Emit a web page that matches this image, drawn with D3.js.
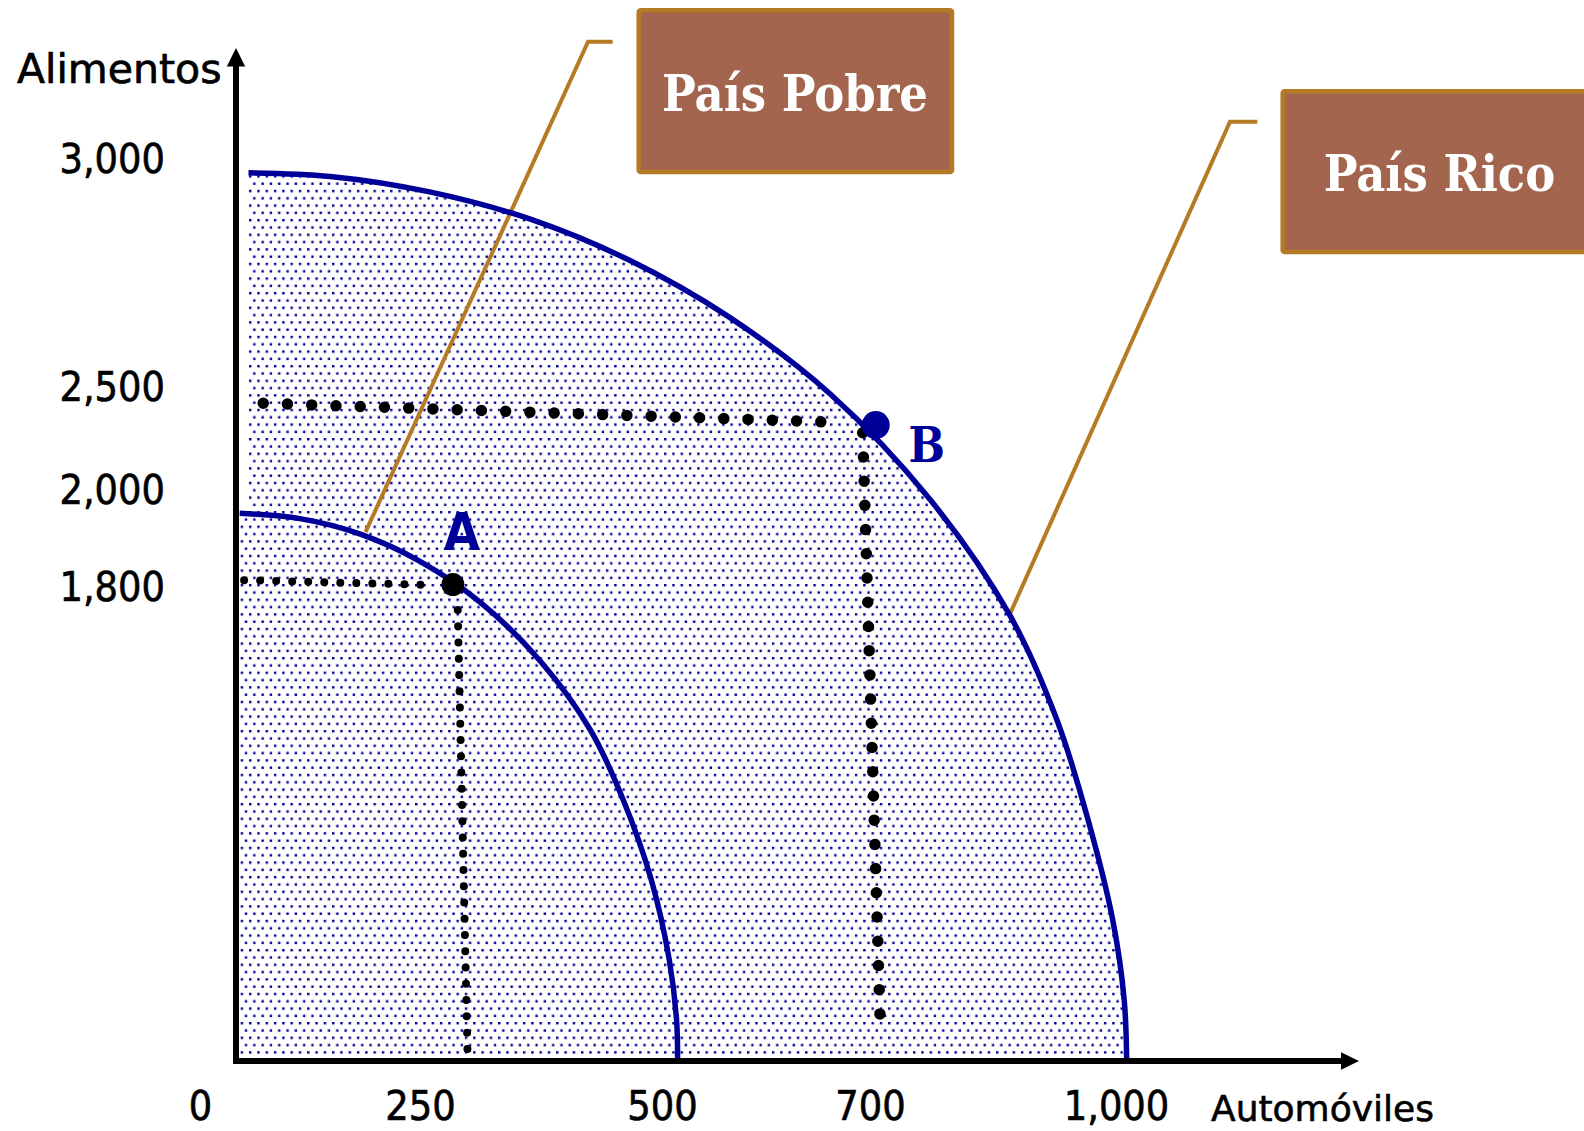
<!DOCTYPE html>
<html><head><meta charset="utf-8">
<script src="https://cdn.jsdelivr.net/npm/d3@7"></script>
<style>
html,body{margin:0;padding:0;background:#fff;overflow:hidden}
svg{display:block}
</style></head><body>
<svg id="chart" width="1584" height="1131"></svg>
<script>
// ---------- data ----------
const xTicks = [0, 250, 500, 700, 1000];          // Automóviles
const yTicks = [1800, 2000, 2500, 3000];          // Alimentos
const xTitle = "Automóviles";
const yTitle = "Alimentos";
// frontier of the rich country [automóviles, alimentos]
const paisRico = [[17,2971],[128,2963],[260,2929],[364,2869],[467,2778],[565,2653],[662,2465],
                  [773,1981],[871,1690],[928,1295],[966,915],[996,536],[1010,232],[1013,0]];
// frontier of the poor country
const paisPobre = [[5,1952],[87,1941],[169,1909],[250,1853],[312,1743],[374,1520],[426,1257],
                   [460,991],[489,687],[507,384],[514,156],[515,0]];
const puntoNames = ["A", "B"];
const puntoX = [284, 707];
const puntoY = [1805, 2315];
// dotted guide lines, each [start, end]
const guiasA = [[[11,1814],[267,1804]], [[289,1713],[299,46]]];
const guiasB = [[[37,2421],[676,2327]], [[693,2278],[713,87]]];
const calloutLabels = ["País Pobre", "País Rico"];
const calloutAnchors = [[176,1913],[871,1700]];

// ---------- layout ----------
const svg = d3.select("#chart");
const x = d3.scaleLinear().domain(xTicks).range([236, 420, 662, 870, 1116]);
const y = d3.scaleLinear().domain([0, ...yTicks]).range([1061, 587, 490, 387, 159.6]);
const BLUE = "#000099", GOLD = "#B57A24", BOX = "#A4654F";

const defs = svg.append("defs");
const pat = defs.append("pattern").attr("id","dots").attr("patternUnits","userSpaceOnUse")
  .attr("width",8.3).attr("height",14.6);
pat.append("rect").attr("width",8.3).attr("height",14.6).attr("fill","#fff");
pat.append("rect").attr("x",0).attr("y",0).attr("width",2.4).attr("height",2.4).attr("fill",BLUE);
pat.append("rect").attr("x",4.15).attr("y",7.3).attr("width",2.4).attr("height",2.4).attr("fill",BLUE);

const line = d3.line().x(d => x(d[0])).y(d => y(d[1])).curve(d3.curveCatmullRom.alpha(0.5));
const straight = d3.line().x(d => x(d[0])).y(d => y(d[1]));

// fills
[paisRico, paisPobre].forEach(c => {
  svg.append("path")
    .attr("d", line(c) + `L${x(c[0][0])},${y(0)}Z`)
    .attr("fill","url(#dots)").attr("stroke","none");
});

// callouts
const boxes = [
  {x:638.7, y:10.3, w:313.3, h:161.7, tx:795, ty:111, ex:612.7, elx:588, ely:41.7},
  {x:1282.7, y:91.3, w:400, h:160.7, tx:1439.5, ty:191, ex:1257.3, elx:1230, ely:121.7}
];
calloutLabels.forEach((lab, i) => {
  const b = boxes[i], a = calloutAnchors[i];
  svg.append("path")
    .attr("d", `M${b.ex},${b.ely}L${b.elx},${b.ely}L${x(a[0])},${y(a[1])}`)
    .attr("fill","none").attr("stroke",GOLD).attr("stroke-width",4);
});

// curves
[paisRico, paisPobre].forEach(c => {
  svg.append("path").attr("d", line(c)).attr("fill","none")
    .attr("stroke",BLUE).attr("stroke-width",5.5);
});

// dotted guides
function dotted(seg, dia, spacing) {
  const p0 = [x(seg[0][0]), y(seg[0][1])], p1 = [x(seg[1][0]), y(seg[1][1])];
  const len = Math.hypot(p1[0]-p0[0], p1[1]-p0[1]);
  const n = Math.max(1, Math.round(len / spacing));
  svg.append("path").attr("d", straight(seg)).attr("fill","none")
    .attr("stroke","#000").attr("stroke-width",dia).attr("stroke-linecap","round")
    .attr("stroke-dasharray", `0 ${len/n}`);
}
guiasB.forEach(s => dotted(s, 11.5, 24.3));
guiasA.forEach(s => dotted(s, 8, 16.2));

// points
svg.append("circle").attr("cx",x(puntoX[0])).attr("cy",y(puntoY[0])).attr("r",11.5).attr("fill","#000");
svg.append("circle").attr("cx",x(puntoX[1])).attr("cy",y(puntoY[1])).attr("r",14).attr("fill",BLUE);
svg.append("text").attr("x",x(puntoX[0])+9).attr("y",y(puntoY[0])-35)
  .attr("text-anchor","middle").attr("font-family","DejaVu Sans Condensed, DejaVu Sans")
  .attr("font-stretch","condensed").attr("font-weight","bold").attr("font-size",52)
  .attr("fill",BLUE).text(puntoNames[0]);
svg.append("text").attr("x",x(puntoX[1])+51).attr("y",y(puntoY[1])+37)
  .attr("text-anchor","middle").attr("font-family","DejaVu Serif Condensed, DejaVu Serif")
  .attr("font-stretch","condensed").attr("font-weight","bold").attr("font-size",48)
  .attr("fill",BLUE).text(puntoNames[1]);

// axes lines + arrows
const ax = svg.append("g");
ax.append("line").attr("x1",x(0)).attr("x2",x(0)).attr("y1",y(0)+3).attr("y2",64)
  .attr("stroke","#000").attr("stroke-width",6);
ax.append("path").attr("d",`M${x(0)},48L${x(0)+9.2},66.5L${x(0)-9.2},66.5Z`).attr("fill","#000");
ax.append("line").attr("x1",x(0)-3).attr("x2",1344).attr("y1",y(0)).attr("y2",y(0))
  .attr("stroke","#000").attr("stroke-width",6);
ax.append("path").attr("d",`M1359,${y(0)}L1341,${y(0)-8.7}L1341,${y(0)+8.7}Z`).attr("fill","#000");

// tick labels via d3 axes
const tickFont = g => g.attr("font-size",41)
  .attr("font-family","DejaVu Sans Condensed, DejaVu Sans").attr("font-stretch","condensed");
const gY = svg.append("g").attr("transform",`translate(${x(0)},0)`)
  .call(d3.axisLeft(y).tickValues(yTicks).tickSize(0).tickPadding(71).tickFormat(d3.format(",")));
gY.select(".domain").remove();
tickFont(gY);
gY.selectAll("text").attr("fill","#000").attr("stroke","#000").attr("stroke-width",0.6);

const gX = svg.append("g").attr("transform",`translate(0,${y(0)})`)
  .call(d3.axisBottom(x).tickValues(xTicks).tickSize(0).tickPadding(30).tickFormat(d3.format(",")));
gX.select(".domain").remove();
tickFont(gX);
gX.selectAll("text").attr("fill","#000").attr("stroke","#000").attr("stroke-width",0.6)
  .filter(d => d === 0).attr("dx",-36);

// axis titles
svg.append("text").attr("x",17).attr("y",83).attr("font-family","DejaVu Sans")
  .attr("font-size",41).attr("fill","#000").attr("stroke","#000").attr("stroke-width",0.7).text(yTitle);
svg.append("text").attr("x",1211).attr("y",1121).attr("font-family","DejaVu Sans")
  .attr("font-size",36).attr("fill","#000").attr("stroke","#000").attr("stroke-width",0.6).text(xTitle);

// label boxes
calloutLabels.forEach((lab, i) => {
  const b = boxes[i];
  svg.append("rect").attr("x",b.x).attr("y",b.y).attr("width",b.w).attr("height",b.h)
    .attr("rx",2).attr("fill",BOX).attr("stroke",GOLD).attr("stroke-width",4.5);
  svg.append("text").attr("x",b.tx).attr("y",b.ty).attr("text-anchor","middle")
    .attr("font-family","DejaVu Serif Condensed, DejaVu Serif").attr("font-stretch","condensed")
    .attr("font-weight","bold").attr("font-size",50).attr("fill","#fff").text(lab);
});
</script>
</body></html>
